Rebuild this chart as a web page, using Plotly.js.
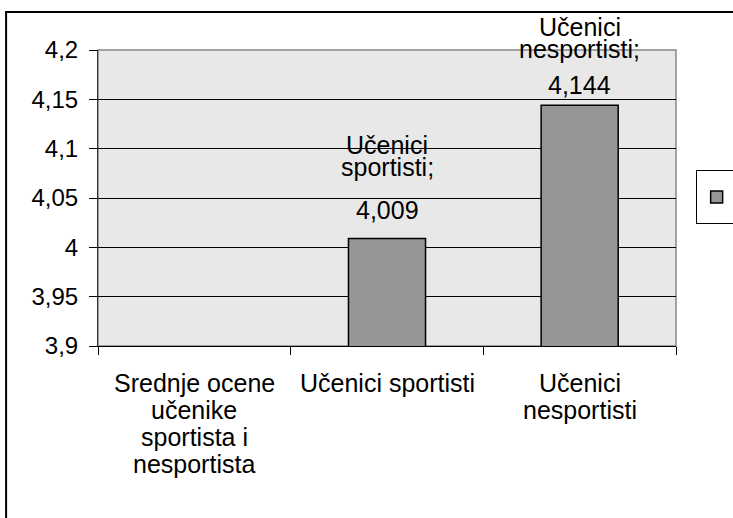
<!DOCTYPE html>
<html>
<head>
<meta charset="utf-8">
<script src="https://cdn.plot.ly/plotly-3.0.1.min.js"></script>
<style>
  html, body { margin: 0; padding: 0; background: #ffffff; }
  #chart { width: 733px; height: 518px; }
</style>
</head>
<body>
<div id="chart"></div>
<script>
// ---- data ----
const categories = ["Srednje ocene učenike sportista i nesportista", "Učenici sportisti", "Učenici nesportisti"];
const categoryLabelLines = [
  ["Srednje ocene", "učenike", "sportista i", "nesportista"],
  ["Učenici sportisti"],
  ["Učenici", "nesportisti"]
];
const values = [null, 4.009, 4.144];
const valueLabels = ["", "4,009", "4,144"];
const seriesLabelLines = [[], ["Učenici", "sportisti;"], ["Učenici", "nesportisti;"]];
const yTickVals = [3.9, 3.95, 4, 4.05, 4.1, 4.15, 4.2];
const yTickText = ["3,9", "3,95", "4", "4,05", "4,1", "4,15", "4,2"];

// ---- style / placement ----
const FONT = "Liberation Sans, Arial, sans-serif";
const FS = 25;
const catLineShift = [-37, -64, -91, -118];        // px below axis (line centres)
const valueShift = [0, 28, 20];                    // px above bar top
const nameShift = [[], [93, 71], [78, 56]];        // px above bar top per line

const annotations = [];
categories.forEach((c, i) => {
  categoryLabelLines[i].forEach((line, k) => {
    annotations.push({
      x: c, y: 0, xref: "x", yref: "paper",
      text: line, showarrow: false,
      yanchor: "middle", yshift: catLineShift[k],
      font: { family: FONT, size: FS, color: "#000" }
    });
  });
  if (values[i] === null) return;
  annotations.push({
    x: c, y: values[i], xref: "x", yref: "y",
    text: valueLabels[i], showarrow: false,
    yanchor: "middle", yshift: valueShift[i],
    font: { family: FONT, size: FS, color: "#000" }
  });
  seriesLabelLines[i].forEach((line, k) => {
    annotations.push({
      x: c, y: values[i], xref: "x", yref: "y",
      text: line, showarrow: false,
      yanchor: "middle", yshift: nameShift[i][k],
      font: { family: FONT, size: FS, color: "#000" }
    });
  });
});

const trace = {
  type: "bar",
  x: categories,
  y: values,
  name: " ",
  showlegend: true,
  width: 0.4,
  marker: { color: "#969696", line: { color: "#000000", width: 1.5 } },
  hoverinfo: "none"
};

const layout = {
  width: 733, height: 518,
  margin: { l: 98, r: 57, t: 50, b: 172, pad: 0, autoexpand: false },
  paper_bgcolor: "#ffffff",
  plot_bgcolor: "#e8e8e8",
  font: { family: FONT, size: FS, color: "#000" },
  separators: ",.",
  showlegend: true,
  legend: {
    x: 1.034, y: 0.503, xanchor: "left", yanchor: "middle",
    bordercolor: "#000", borderwidth: 1, bgcolor: "#fff",
    font: { family: FONT, size: 30 }
  },
  xaxis: {
    type: "category",
    tickvals: categories,
    ticktext: ["", "", ""],
    showticklabels: false,
    tickson: "boundaries",
    ticks: "outside", ticklen: 8, tickcolor: "#000", tickwidth: 1,
    showline: true, linecolor: "#000", linewidth: 1,
    showgrid: false, zeroline: false,
    fixedrange: true
  },
  yaxis: {
    range: [3.9, 4.2],
    tickvals: yTickVals,
    ticktext: yTickText,
    ticks: "outside", ticklen: 8, tickcolor: "#000", tickwidth: 1,
    showline: true, linecolor: "#333", linewidth: 1,
    showgrid: true, gridcolor: "#000", gridwidth: 1,
    zeroline: false,
    tickfont: { family: FONT, size: 24, color: "#000" },
    ticklabelstandoff: 6,
    fixedrange: true
  },
  annotations: annotations,
  shapes: [
    { type: "rect", xref: "paper", yref: "paper", x0: 0, x1: 1, y0: 0, y1: 1,
      line: { color: "#888", width: 1.5 }, layer: "between" },
    { type: "rect", xref: "paper", yref: "paper", x0: -0.159, x1: 1.3, y0: -0.8, y1: 1.128,
      line: { color: "#000", width: 2 } }
  ]
};

Plotly.newPlot("chart", [trace], layout, { staticPlot: true, displayModeBar: false });
</script>
</body>
</html>
